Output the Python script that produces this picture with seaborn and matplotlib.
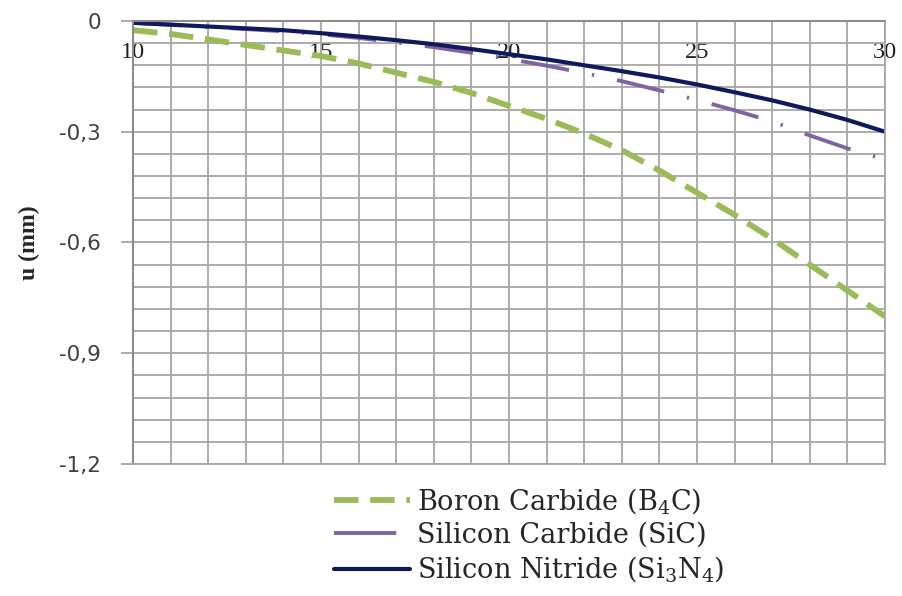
import matplotlib
matplotlib.use("Agg")
import matplotlib.pyplot as plt
import seaborn as sns
import numpy as np
from matplotlib.ticker import MultipleLocator, FuncFormatter
from matplotlib.lines import Line2D

sns.set_theme(style="white")
plt.rcParams['mathtext.fontset'] = 'custom'
plt.rcParams['mathtext.rm'] = 'DejaVu Serif'
plt.rcParams['mathtext.it'] = 'DejaVu Serif:italic'

x_vals = list(range(10, 31))
boron_carbide = [-0.025, -0.035, -0.05, -0.065, -0.08, -0.095, -0.115, -0.14, -0.165, -0.195,
                 -0.23, -0.265, -0.305, -0.35, -0.405, -0.465, -0.525, -0.59, -0.66, -0.73, -0.80]
silicon_carbide = [-0.005, -0.01, -0.016, -0.022, -0.028, -0.036, -0.046, -0.058, -0.071, -0.086,
                   -0.103, -0.121, -0.141, -0.163, -0.188, -0.214, -0.242, -0.272, -0.31, -0.345, -0.375]
silicon_nitride = [-0.005, -0.01, -0.015, -0.02, -0.025, -0.033, -0.042, -0.052, -0.063, -0.076,
                   -0.09, -0.104, -0.12, -0.136, -0.153, -0.172, -0.193, -0.215, -0.24, -0.268, -0.30]
x_ticks = [10, 15, 20, 25, 30]
x_tick_labels = ["10", "15", "20", "25", "30"]
labels = ["Boron Carbide (B$_4$C)", "Silicon Carbide (SiC)", "Silicon Nitride (Si$_3$N$_4$)"]
colors = ["#9BBB59", "#8064A2", "#0F1A5C"]

fig = plt.figure(figsize=(9.03, 5.96), dpi=100)
ax = fig.add_axes([0.1473, 0.2215, 0.8327, 0.7433])

sns.lineplot(x=x_vals, y=boron_carbide, color=colors[0], linewidth=4.2, ax=ax)
sns.lineplot(x=x_vals, y=silicon_carbide, color=colors[1], linewidth=2.8, ax=ax)
sns.lineplot(x=x_vals, y=silicon_nitride, color=colors[2], linewidth=3.0, ax=ax)
lines = ax.get_lines()
lines[0].set_dashes((4.2, 2.0))
lines[1].set_dashes((12.5, 6.0, 0.6, 6.0))

ax.set_xlim(10, 30)
ax.set_ylim(-1.2, 0)
ax.set_xticks(x_ticks)
ax.xaxis.set_minor_locator(MultipleLocator(1))
ax.yaxis.set_major_locator(MultipleLocator(0.3))
ax.yaxis.set_minor_locator(MultipleLocator(0.06))
ax.grid(True, which="both", color="#A6A6A6", linewidth=1.3)
ax.set_axisbelow(True)

ax.yaxis.set_major_formatter(FuncFormatter(lambda v, p: ("%g" % round(v, 2)).replace(".", ",") if abs(v) > 1e-9 else "0"))
ax.tick_params(axis="y", which="major", left=True, length=9, width=1.3, color="#A6A6A6",
               labelsize=15.5, labelcolor="#404040", pad=14)
ax.tick_params(axis="y", which="minor", left=False)

ax.tick_params(axis="x", which="both", bottom=False, top=False, labelbottom=False, labeltop=True,
               pad=-36, labelcolor="#202020")
ax.set_xticklabels(x_tick_labels, family="Liberation Serif", fontsize=17.5)

for s in ["left", "top"]:
    ax.spines[s].set_color("#8C8C8C")
    ax.spines[s].set_linewidth(1.5)
for s in ["right", "bottom"]:
    ax.spines[s].set_color("#A6A6A6")
    ax.spines[s].set_linewidth(1.3)

ax.set_ylabel("u (mm)", family="Liberation Serif", fontweight="bold", fontsize=17, labelpad=14)

handles = [
    Line2D([], [], color=colors[0], linewidth=4.2, dashes=(4.2, 2.0)),
    Line2D([], [], color=colors[1], linewidth=2.8, dashes=(16, 30)),
    Line2D([], [], color=colors[2], linewidth=3.0),
]
fig.legend(handles=handles, labels=labels, loc="upper left", bbox_to_anchor=(0.355, 0.208),
           frameon=False, prop={"family": "DejaVu Serif", "size": 19.5},
           handlelength=2.8, handletextpad=0.25, labelspacing=0.22, borderpad=0)

fig.savefig("out.png", dpi=100)
